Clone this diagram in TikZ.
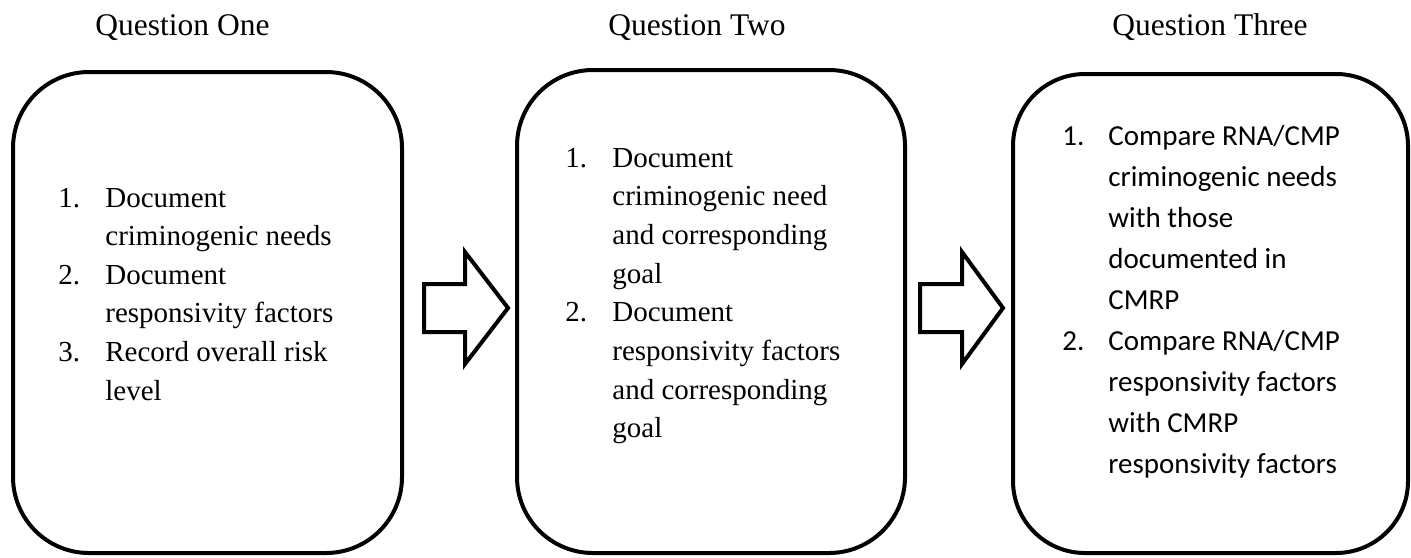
\documentclass[tikz,border=0pt]{standalone}
\usepackage{fontspec}
\setmainfont{Liberation Serif}
\newfontfamily\calfont{Carlito}
\begin{document}
\begin{tikzpicture}[x=0.5pt,y=-0.5pt,
  qbox/.style={draw, line width=2pt, rounded corners=38pt, inner sep=0pt},
  blockarrow/.style={draw, line width=2pt, line join=miter, fill=white},
  title/.style={anchor=base west, inner sep=0pt, font=\fontsize{15.75}{18}\selectfont},
  serline/.style={anchor=base west, inner sep=0pt, font=\fontsize{14.5}{17}\selectfont},
  calline/.style={anchor=base west, inner sep=0pt, font=\calfont\fontsize{14.5}{17}\selectfont}]
\useasboundingbox (0,0) rectangle (1411,557);
% titles
\node[title] (t1) at (95,35) {Question One};
\node[title] (t2) at (608,35) {Question Two};
\node[title] (t3) at (1112,35) {Question Three};
% boxes
\node[qbox, minimum width=194.5pt, minimum height=240.5pt] (b1) at (207.5,312.5) {};
\node[qbox, minimum width=194pt, minimum height=241.5pt] (b2) at (711,311.5) {};
\node[qbox, minimum width=197.5pt, minimum height=239.5pt, rounded corners=36pt] (b3) at (1210.5,313.5) {};
% block arrows
\draw[blockarrow] (424,284) -- (465,284) -- (465,252) -- (508,308) -- (465,364) -- (465,332) -- (424,332) -- cycle;
\draw[blockarrow] (920,284) -- (962,284) -- (962,252) -- (1003,308) -- (962,364) -- (962,332) -- (920,332) -- cycle;
% box 1 text
\node[serline] (n11) at (58,207) {1.};
\node[serline] (n12) at (58,284.2) {2.};
\node[serline] (n13) at (58,361.4) {3.};
\foreach \t [count=\i from 0] in {Document, criminogenic needs, Document, responsivity factors, Record overall risk, level}
  \node[serline] (l1-\i) at (105,207+38.6*\i) {\t};
% box 2 text
\node[serline] (n21) at (565,167) {1.};
\node[serline] (n22) at (565,321.8) {2.};
\foreach \t [count=\i from 0] in {Document, criminogenic need, and corresponding, goal, Document, responsivity factors, and corresponding, goal}
  \node[serline] (l2-\i) at (612,167+38.7*\i) {\t};
% box 3 text
\node[calline] (n31) at (1062,145) {1.};
\node[calline] (n32) at (1062,350) {2.};
\foreach \t [count=\i from 0] in {Compare RNA/CMP, criminogenic needs, with those, documented in, CMRP, Compare RNA/CMP, responsivity factors, with CMRP, responsivity factors}
  \node[calline] (l3-\i) at (1108,145+41*\i) {\t};
\end{tikzpicture}
\end{document}
